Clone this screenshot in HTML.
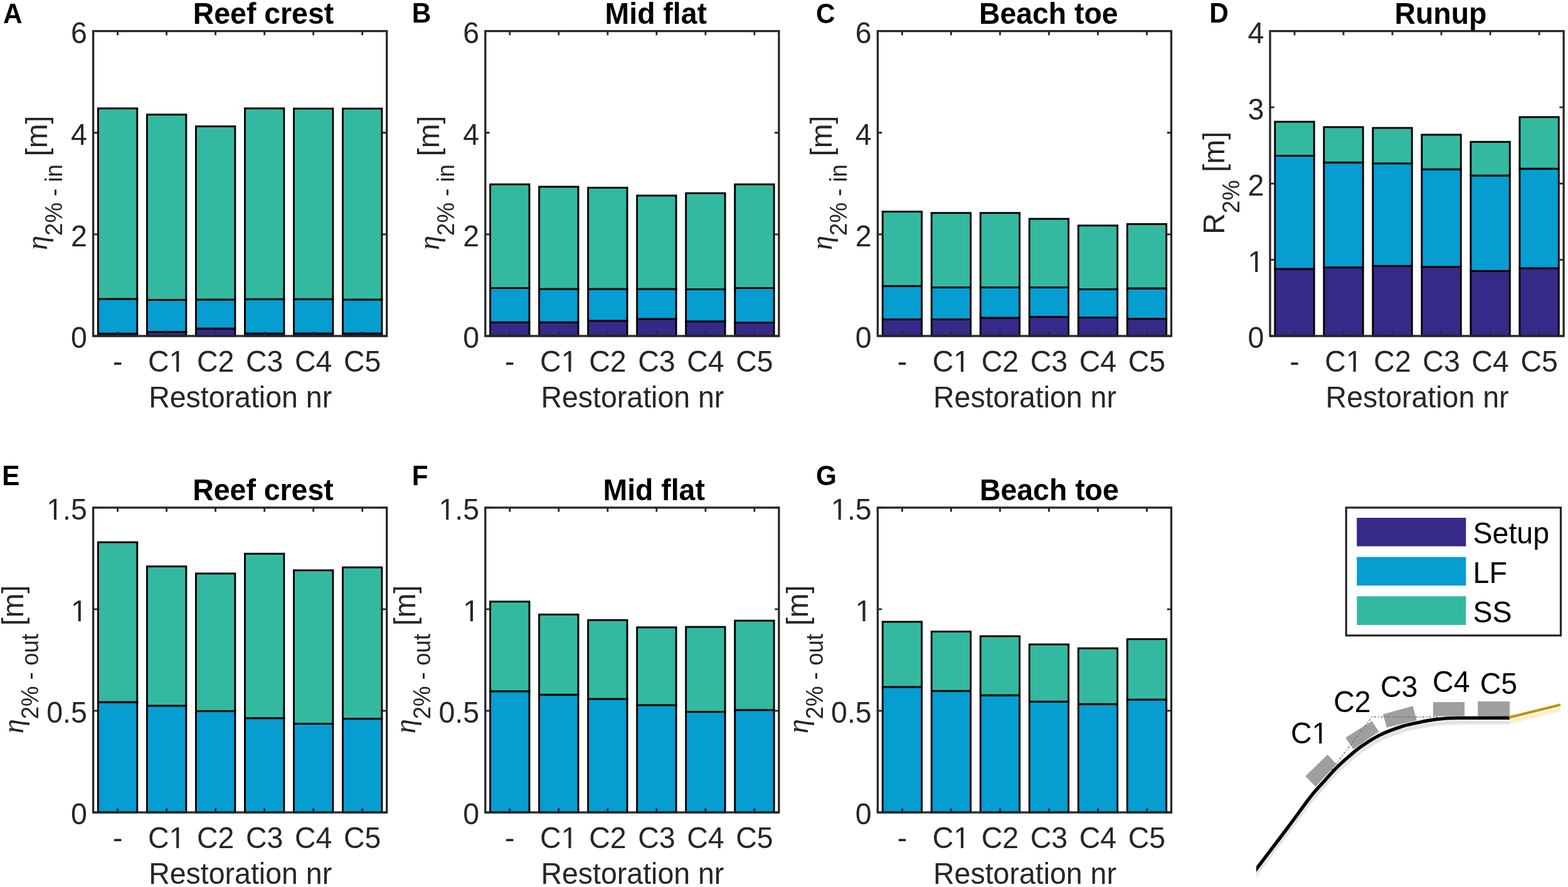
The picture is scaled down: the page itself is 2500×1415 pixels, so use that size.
<!DOCTYPE html>
<html><head><meta charset="utf-8"><title>Figure</title>
<style>html,body{margin:0;padding:0;background:#fff;overflow:hidden}svg{display:block}.t{font-family:"Liberation Sans",Arial,sans-serif;font-size:46.5px;fill:#262626}.b{font-family:"Liberation Sans",Arial,sans-serif;font-weight:bold;fill:#000}.k{font-family:"Liberation Sans",Arial,sans-serif;font-size:46.5px;fill:#000}.eta{font-family:"Liberation Serif","DejaVu Serif",serif;font-style:italic}</style></head><body>
<svg width="2500" height="1415" viewBox="0 0 2500 1415">
<rect x="0" y="0" width="2500" height="1415" fill="#fff"/>
<defs><clipPath id="c1m"><path clip-rule="evenodd" d="M-300 -300H300V300H-300ZM6.2 -4.47H15.55V1.5H6.2ZM19.66 -4.47H28.95V1.5H19.66Z"/></clipPath><clipPath id="c1s"><path clip-rule="evenodd" d="M-300 -300H300V300H-300ZM35.92 -4.47H45.27V1.5H35.92ZM49.38 -4.47H58.67V1.5H49.38Z"/></clipPath><clipPath id="o1e"><path clip-rule="evenodd" d="M-300 -300H300V300H-300ZM-23.52 -4.47H-14.17V1.5H-23.52ZM-10.06 -4.47H-0.77V1.5H-10.06Z"/></clipPath><clipPath id="o15e"><path clip-rule="evenodd" d="M-300 -300H300V300H-300ZM-62.3 -4.47H-52.95V1.5H-62.3ZM-48.84 -4.47H-39.55V1.5H-48.84Z"/></clipPath></defs>
<g><rect x="156.41" y="532.2" width="62.4" height="3.8" fill="#352a87" stroke="#000" stroke-width="2.9"/><rect x="156.41" y="476.9" width="62.4" height="55.3" fill="#069dd1" stroke="#000" stroke-width="2.9"/><rect x="156.41" y="172.9" width="62.4" height="304" fill="#34b9a1" stroke="#000" stroke-width="2.9"/><rect x="234.43" y="529.5" width="62.4" height="6.5" fill="#352a87" stroke="#000" stroke-width="2.9"/><rect x="234.43" y="478.4" width="62.4" height="51.1" fill="#069dd1" stroke="#000" stroke-width="2.9"/><rect x="234.43" y="182.8" width="62.4" height="295.6" fill="#34b9a1" stroke="#000" stroke-width="2.9"/><rect x="312.44" y="524.1" width="62.4" height="11.9" fill="#352a87" stroke="#000" stroke-width="2.9"/><rect x="312.44" y="477.9" width="62.4" height="46.2" fill="#069dd1" stroke="#000" stroke-width="2.9"/><rect x="312.44" y="201.6" width="62.4" height="276.3" fill="#34b9a1" stroke="#000" stroke-width="2.9"/><rect x="390.46" y="532" width="62.4" height="4" fill="#352a87" stroke="#000" stroke-width="2.9"/><rect x="390.46" y="477.3" width="62.4" height="54.7" fill="#069dd1" stroke="#000" stroke-width="2.9"/><rect x="390.46" y="172.9" width="62.4" height="304.4" fill="#34b9a1" stroke="#000" stroke-width="2.9"/><rect x="468.47" y="532" width="62.4" height="4" fill="#352a87" stroke="#000" stroke-width="2.9"/><rect x="468.47" y="477.3" width="62.4" height="54.7" fill="#069dd1" stroke="#000" stroke-width="2.9"/><rect x="468.47" y="173.2" width="62.4" height="304.1" fill="#34b9a1" stroke="#000" stroke-width="2.9"/><rect x="546.49" y="532" width="62.4" height="4" fill="#352a87" stroke="#000" stroke-width="2.9"/><rect x="546.49" y="477.9" width="62.4" height="54.1" fill="#069dd1" stroke="#000" stroke-width="2.9"/><rect x="546.49" y="173.2" width="62.4" height="304.7" fill="#34b9a1" stroke="#000" stroke-width="2.9"/></g>
<path d="M148.6 536h6.7M616.7 536h-6.7M148.6 373.87h6.7M616.7 373.87h-6.7M148.6 211.73h6.7M616.7 211.73h-6.7M148.6 49.6h6.7M616.7 49.6h-6.7M187.61 536v-6.7M187.61 49.6v6.7M265.62 536v-6.7M265.62 49.6v6.7M343.64 536v-6.7M343.64 49.6v6.7M421.66 536v-6.7M421.66 49.6v6.7M499.67 536v-6.7M499.67 49.6v6.7M577.69 536v-6.7M577.69 49.6v6.7" stroke="#262626" stroke-width="2.8" fill="none"/>
<rect x="148.6" y="49.6" width="468.1" height="486.4" fill="none" stroke="#262626" stroke-width="3.3"/>
<text class="t" transform="translate(138.9 555.4) scale(1 1.04)" text-anchor="end">0</text>
<text class="t" transform="translate(138.9 393.27) scale(1 1.04)" text-anchor="end">2</text>
<text class="t" transform="translate(138.9 231.13) scale(1 1.04)" text-anchor="end">4</text>
<text class="t" transform="translate(138.9 69) scale(1 1.04)" text-anchor="end">6</text>
<text class="t" transform="translate(187.61 593) scale(1 1.04)" text-anchor="middle">-</text>
<text class="t" transform="translate(265.62 593) scale(1 1.04)" text-anchor="middle" clip-path="url(#c1m)">C1</text>
<text class="t" transform="translate(343.64 593) scale(1 1.04)" text-anchor="middle">C2</text>
<text class="t" transform="translate(421.66 593) scale(1 1.04)" text-anchor="middle">C3</text>
<text class="t" transform="translate(499.67 593) scale(1 1.04)" text-anchor="middle">C4</text>
<text class="t" transform="translate(577.69 593) scale(1 1.04)" text-anchor="middle">C5</text>
<text class="t" transform="translate(383.15 650.3) scale(1 1.04)" text-anchor="middle">Restoration nr</text>
<text class="t" transform="translate(75.2 291.8) rotate(-90) scale(1 1.04)" text-anchor="middle"><tspan class="eta">&#951;</tspan><tspan font-size="36.6" dy="23">2% - in</tspan><tspan dy="-23"> [m]</tspan></text>
<text class="b" transform="translate(307.8 38.2) scale(1 1.04)" font-size="46.4">Reef crest</text>
<text class="b" transform="translate(5 36.8) scale(1 1.04)" font-size="42.3">A</text>
<g><rect x="781.61" y="514.2" width="62.4" height="21.8" fill="#352a87" stroke="#000" stroke-width="2.9"/><rect x="781.61" y="459.5" width="62.4" height="54.7" fill="#069dd1" stroke="#000" stroke-width="2.9"/><rect x="781.61" y="294.1" width="62.4" height="165.4" fill="#34b9a1" stroke="#000" stroke-width="2.9"/><rect x="859.62" y="514.2" width="62.4" height="21.8" fill="#352a87" stroke="#000" stroke-width="2.9"/><rect x="859.62" y="461" width="62.4" height="53.2" fill="#069dd1" stroke="#000" stroke-width="2.9"/><rect x="859.62" y="297.9" width="62.4" height="163.1" fill="#34b9a1" stroke="#000" stroke-width="2.9"/><rect x="937.64" y="511.7" width="62.4" height="24.3" fill="#352a87" stroke="#000" stroke-width="2.9"/><rect x="937.64" y="461" width="62.4" height="50.7" fill="#069dd1" stroke="#000" stroke-width="2.9"/><rect x="937.64" y="299.4" width="62.4" height="161.6" fill="#34b9a1" stroke="#000" stroke-width="2.9"/><rect x="1015.66" y="508.9" width="62.4" height="27.1" fill="#352a87" stroke="#000" stroke-width="2.9"/><rect x="1015.66" y="461" width="62.4" height="47.9" fill="#069dd1" stroke="#000" stroke-width="2.9"/><rect x="1015.66" y="312" width="62.4" height="149" fill="#34b9a1" stroke="#000" stroke-width="2.9"/><rect x="1093.67" y="512.7" width="62.4" height="23.3" fill="#352a87" stroke="#000" stroke-width="2.9"/><rect x="1093.67" y="461.5" width="62.4" height="51.2" fill="#069dd1" stroke="#000" stroke-width="2.9"/><rect x="1093.67" y="308.2" width="62.4" height="153.3" fill="#34b9a1" stroke="#000" stroke-width="2.9"/><rect x="1171.69" y="514.6" width="62.4" height="21.4" fill="#352a87" stroke="#000" stroke-width="2.9"/><rect x="1171.69" y="459.5" width="62.4" height="55.1" fill="#069dd1" stroke="#000" stroke-width="2.9"/><rect x="1171.69" y="294.1" width="62.4" height="165.4" fill="#34b9a1" stroke="#000" stroke-width="2.9"/></g>
<path d="M773.8 536h6.7M1241.9 536h-6.7M773.8 373.87h6.7M1241.9 373.87h-6.7M773.8 211.73h6.7M1241.9 211.73h-6.7M773.8 49.6h6.7M1241.9 49.6h-6.7M812.81 536v-6.7M812.81 49.6v6.7M890.82 536v-6.7M890.82 49.6v6.7M968.84 536v-6.7M968.84 49.6v6.7M1046.86 536v-6.7M1046.86 49.6v6.7M1124.88 536v-6.7M1124.88 49.6v6.7M1202.89 536v-6.7M1202.89 49.6v6.7" stroke="#262626" stroke-width="2.8" fill="none"/>
<rect x="773.8" y="49.6" width="468.1" height="486.4" fill="none" stroke="#262626" stroke-width="3.3"/>
<text class="t" transform="translate(764.1 555.4) scale(1 1.04)" text-anchor="end">0</text>
<text class="t" transform="translate(764.1 393.27) scale(1 1.04)" text-anchor="end">2</text>
<text class="t" transform="translate(764.1 231.13) scale(1 1.04)" text-anchor="end">4</text>
<text class="t" transform="translate(764.1 69) scale(1 1.04)" text-anchor="end">6</text>
<text class="t" transform="translate(812.81 593) scale(1 1.04)" text-anchor="middle">-</text>
<text class="t" transform="translate(890.82 593) scale(1 1.04)" text-anchor="middle" clip-path="url(#c1m)">C1</text>
<text class="t" transform="translate(968.84 593) scale(1 1.04)" text-anchor="middle">C2</text>
<text class="t" transform="translate(1046.86 593) scale(1 1.04)" text-anchor="middle">C3</text>
<text class="t" transform="translate(1124.88 593) scale(1 1.04)" text-anchor="middle">C4</text>
<text class="t" transform="translate(1202.89 593) scale(1 1.04)" text-anchor="middle">C5</text>
<text class="t" transform="translate(1008.35 650.3) scale(1 1.04)" text-anchor="middle">Restoration nr</text>
<text class="t" transform="translate(700.4 291.8) rotate(-90) scale(1 1.04)" text-anchor="middle"><tspan class="eta">&#951;</tspan><tspan font-size="36.6" dy="23">2% - in</tspan><tspan dy="-23"> [m]</tspan></text>
<text class="b" transform="translate(964.6 38.4) scale(1 1.04)" font-size="46.4">Mid flat</text>
<text class="b" transform="translate(656.8 36.4) scale(1 1.04)" font-size="42.3">B</text>
<g><rect x="1407.21" y="509.5" width="62.4" height="26.5" fill="#352a87" stroke="#000" stroke-width="2.9"/><rect x="1407.21" y="456.3" width="62.4" height="53.2" fill="#069dd1" stroke="#000" stroke-width="2.9"/><rect x="1407.21" y="337.6" width="62.4" height="118.7" fill="#34b9a1" stroke="#000" stroke-width="2.9"/><rect x="1485.23" y="509.5" width="62.4" height="26.5" fill="#352a87" stroke="#000" stroke-width="2.9"/><rect x="1485.23" y="458.5" width="62.4" height="51" fill="#069dd1" stroke="#000" stroke-width="2.9"/><rect x="1485.23" y="339.7" width="62.4" height="118.8" fill="#34b9a1" stroke="#000" stroke-width="2.9"/><rect x="1563.24" y="507" width="62.4" height="29" fill="#352a87" stroke="#000" stroke-width="2.9"/><rect x="1563.24" y="458.5" width="62.4" height="48.5" fill="#069dd1" stroke="#000" stroke-width="2.9"/><rect x="1563.24" y="339.7" width="62.4" height="118.8" fill="#34b9a1" stroke="#000" stroke-width="2.9"/><rect x="1641.26" y="505.5" width="62.4" height="30.5" fill="#352a87" stroke="#000" stroke-width="2.9"/><rect x="1641.26" y="458.5" width="62.4" height="47" fill="#069dd1" stroke="#000" stroke-width="2.9"/><rect x="1641.26" y="349.1" width="62.4" height="109.4" fill="#34b9a1" stroke="#000" stroke-width="2.9"/><rect x="1719.28" y="506.5" width="62.4" height="29.5" fill="#352a87" stroke="#000" stroke-width="2.9"/><rect x="1719.28" y="461.5" width="62.4" height="45" fill="#069dd1" stroke="#000" stroke-width="2.9"/><rect x="1719.28" y="359.8" width="62.4" height="101.7" fill="#34b9a1" stroke="#000" stroke-width="2.9"/><rect x="1797.29" y="508.5" width="62.4" height="27.5" fill="#352a87" stroke="#000" stroke-width="2.9"/><rect x="1797.29" y="460" width="62.4" height="48.5" fill="#069dd1" stroke="#000" stroke-width="2.9"/><rect x="1797.29" y="357.5" width="62.4" height="102.5" fill="#34b9a1" stroke="#000" stroke-width="2.9"/></g>
<path d="M1399.4 536h6.7M1867.5 536h-6.7M1399.4 373.87h6.7M1867.5 373.87h-6.7M1399.4 211.73h6.7M1867.5 211.73h-6.7M1399.4 49.6h6.7M1867.5 49.6h-6.7M1438.41 536v-6.7M1438.41 49.6v6.7M1516.43 536v-6.7M1516.43 49.6v6.7M1594.44 536v-6.7M1594.44 49.6v6.7M1672.46 536v-6.7M1672.46 49.6v6.7M1750.48 536v-6.7M1750.48 49.6v6.7M1828.49 536v-6.7M1828.49 49.6v6.7" stroke="#262626" stroke-width="2.8" fill="none"/>
<rect x="1399.4" y="49.6" width="468.1" height="486.4" fill="none" stroke="#262626" stroke-width="3.3"/>
<text class="t" transform="translate(1389.7 555.4) scale(1 1.04)" text-anchor="end">0</text>
<text class="t" transform="translate(1389.7 393.27) scale(1 1.04)" text-anchor="end">2</text>
<text class="t" transform="translate(1389.7 231.13) scale(1 1.04)" text-anchor="end">4</text>
<text class="t" transform="translate(1389.7 69) scale(1 1.04)" text-anchor="end">6</text>
<text class="t" transform="translate(1438.41 593) scale(1 1.04)" text-anchor="middle">-</text>
<text class="t" transform="translate(1516.43 593) scale(1 1.04)" text-anchor="middle" clip-path="url(#c1m)">C1</text>
<text class="t" transform="translate(1594.44 593) scale(1 1.04)" text-anchor="middle">C2</text>
<text class="t" transform="translate(1672.46 593) scale(1 1.04)" text-anchor="middle">C3</text>
<text class="t" transform="translate(1750.48 593) scale(1 1.04)" text-anchor="middle">C4</text>
<text class="t" transform="translate(1828.49 593) scale(1 1.04)" text-anchor="middle">C5</text>
<text class="t" transform="translate(1633.95 650.3) scale(1 1.04)" text-anchor="middle">Restoration nr</text>
<text class="t" transform="translate(1326 291.8) rotate(-90) scale(1 1.04)" text-anchor="middle"><tspan class="eta">&#951;</tspan><tspan font-size="36.6" dy="23">2% - in</tspan><tspan dy="-23"> [m]</tspan></text>
<text class="b" transform="translate(1560.9 38.4) scale(1 1.04)" font-size="46.4">Beach toe</text>
<text class="b" transform="translate(1300.9 36.6) scale(1 1.04)" font-size="42.3">C</text>
<g><rect x="2032.81" y="428.9" width="62.4" height="107.1" fill="#352a87" stroke="#000" stroke-width="2.9"/><rect x="2032.81" y="248.5" width="62.4" height="180.4" fill="#069dd1" stroke="#000" stroke-width="2.9"/><rect x="2032.81" y="194.2" width="62.4" height="54.3" fill="#34b9a1" stroke="#000" stroke-width="2.9"/><rect x="2110.83" y="426.6" width="62.4" height="109.4" fill="#352a87" stroke="#000" stroke-width="2.9"/><rect x="2110.83" y="259.2" width="62.4" height="167.4" fill="#069dd1" stroke="#000" stroke-width="2.9"/><rect x="2110.83" y="202.8" width="62.4" height="56.4" fill="#34b9a1" stroke="#000" stroke-width="2.9"/><rect x="2188.84" y="424.2" width="62.4" height="111.8" fill="#352a87" stroke="#000" stroke-width="2.9"/><rect x="2188.84" y="260.7" width="62.4" height="163.5" fill="#069dd1" stroke="#000" stroke-width="2.9"/><rect x="2188.84" y="204.1" width="62.4" height="56.6" fill="#34b9a1" stroke="#000" stroke-width="2.9"/><rect x="2266.86" y="425.7" width="62.4" height="110.3" fill="#352a87" stroke="#000" stroke-width="2.9"/><rect x="2266.86" y="270.1" width="62.4" height="155.6" fill="#069dd1" stroke="#000" stroke-width="2.9"/><rect x="2266.86" y="214.9" width="62.4" height="55.2" fill="#34b9a1" stroke="#000" stroke-width="2.9"/><rect x="2344.88" y="432.3" width="62.4" height="103.7" fill="#352a87" stroke="#000" stroke-width="2.9"/><rect x="2344.88" y="280" width="62.4" height="152.3" fill="#069dd1" stroke="#000" stroke-width="2.9"/><rect x="2344.88" y="226.3" width="62.4" height="53.7" fill="#34b9a1" stroke="#000" stroke-width="2.9"/><rect x="2422.89" y="427.9" width="62.4" height="108.1" fill="#352a87" stroke="#000" stroke-width="2.9"/><rect x="2422.89" y="269.1" width="62.4" height="158.8" fill="#069dd1" stroke="#000" stroke-width="2.9"/><rect x="2422.89" y="186.8" width="62.4" height="82.3" fill="#34b9a1" stroke="#000" stroke-width="2.9"/></g>
<path d="M2025 536h6.7M2493.1 536h-6.7M2025 414.4h6.7M2493.1 414.4h-6.7M2025 292.8h6.7M2493.1 292.8h-6.7M2025 171.2h6.7M2493.1 171.2h-6.7M2025 49.6h6.7M2493.1 49.6h-6.7M2064.01 536v-6.7M2064.01 49.6v6.7M2142.03 536v-6.7M2142.03 49.6v6.7M2220.04 536v-6.7M2220.04 49.6v6.7M2298.06 536v-6.7M2298.06 49.6v6.7M2376.07 536v-6.7M2376.07 49.6v6.7M2454.09 536v-6.7M2454.09 49.6v6.7" stroke="#262626" stroke-width="2.8" fill="none"/>
<rect x="2025" y="49.6" width="468.1" height="486.4" fill="none" stroke="#262626" stroke-width="3.3"/>
<text class="t" transform="translate(2015.3 555.4) scale(1 1.04)" text-anchor="end">0</text>
<text class="t" transform="translate(2015.3 433.8) scale(1 1.04)" text-anchor="end" clip-path="url(#o1e)">1</text>
<text class="t" transform="translate(2015.3 312.2) scale(1 1.04)" text-anchor="end">2</text>
<text class="t" transform="translate(2015.3 190.6) scale(1 1.04)" text-anchor="end">3</text>
<text class="t" transform="translate(2015.3 69) scale(1 1.04)" text-anchor="end">4</text>
<text class="t" transform="translate(2064.01 593) scale(1 1.04)" text-anchor="middle">-</text>
<text class="t" transform="translate(2142.03 593) scale(1 1.04)" text-anchor="middle" clip-path="url(#c1m)">C1</text>
<text class="t" transform="translate(2220.04 593) scale(1 1.04)" text-anchor="middle">C2</text>
<text class="t" transform="translate(2298.06 593) scale(1 1.04)" text-anchor="middle">C3</text>
<text class="t" transform="translate(2376.07 593) scale(1 1.04)" text-anchor="middle">C4</text>
<text class="t" transform="translate(2454.09 593) scale(1 1.04)" text-anchor="middle">C5</text>
<text class="t" transform="translate(2259.55 650.3) scale(1 1.04)" text-anchor="middle">Restoration nr</text>
<text class="t" transform="translate(1951.6 291.8) rotate(-90) scale(1 1.04)" text-anchor="middle">R<tspan font-size="36.6" dy="23">2%</tspan><tspan dy="-23"> [m]</tspan></text>
<text class="b" transform="translate(2223.5 38.4) scale(1 1.04)" font-size="46.4">Runup</text>
<text class="b" transform="translate(1928.2 36.4) scale(1 1.04)" font-size="42.3">D</text>
<g><rect x="156.41" y="1120.1" width="62.4" height="175.9" fill="#069dd1" stroke="#000" stroke-width="2.9"/><rect x="156.41" y="865" width="62.4" height="255.1" fill="#34b9a1" stroke="#000" stroke-width="2.9"/><rect x="234.43" y="1125.8" width="62.4" height="170.2" fill="#069dd1" stroke="#000" stroke-width="2.9"/><rect x="234.43" y="903.6" width="62.4" height="222.2" fill="#34b9a1" stroke="#000" stroke-width="2.9"/><rect x="312.44" y="1134.4" width="62.4" height="161.6" fill="#069dd1" stroke="#000" stroke-width="2.9"/><rect x="312.44" y="914.9" width="62.4" height="219.5" fill="#34b9a1" stroke="#000" stroke-width="2.9"/><rect x="390.46" y="1145.7" width="62.4" height="150.3" fill="#069dd1" stroke="#000" stroke-width="2.9"/><rect x="390.46" y="883.3" width="62.4" height="262.4" fill="#34b9a1" stroke="#000" stroke-width="2.9"/><rect x="468.47" y="1154.5" width="62.4" height="141.5" fill="#069dd1" stroke="#000" stroke-width="2.9"/><rect x="468.47" y="909.8" width="62.4" height="244.7" fill="#34b9a1" stroke="#000" stroke-width="2.9"/><rect x="546.49" y="1146.6" width="62.4" height="149.4" fill="#069dd1" stroke="#000" stroke-width="2.9"/><rect x="546.49" y="905.1" width="62.4" height="241.5" fill="#34b9a1" stroke="#000" stroke-width="2.9"/></g>
<path d="M148.6 1296h6.7M616.7 1296h-6.7M148.6 1133.93h6.7M616.7 1133.93h-6.7M148.6 971.87h6.7M616.7 971.87h-6.7M148.6 809.8h6.7M616.7 809.8h-6.7M187.61 1296v-6.7M187.61 809.8v6.7M265.62 1296v-6.7M265.62 809.8v6.7M343.64 1296v-6.7M343.64 809.8v6.7M421.66 1296v-6.7M421.66 809.8v6.7M499.67 1296v-6.7M499.67 809.8v6.7M577.69 1296v-6.7M577.69 809.8v6.7" stroke="#262626" stroke-width="2.8" fill="none"/>
<rect x="148.6" y="809.8" width="468.1" height="486.2" fill="none" stroke="#262626" stroke-width="3.3"/>
<text class="t" transform="translate(138.9 1315.4) scale(1 1.04)" text-anchor="end">0</text>
<text class="t" transform="translate(138.9 1153.33) scale(1 1.04)" text-anchor="end">0.5</text>
<text class="t" transform="translate(138.9 991.27) scale(1 1.04)" text-anchor="end" clip-path="url(#o1e)">1</text>
<text class="t" transform="translate(138.9 829.2) scale(1 1.04)" text-anchor="end" clip-path="url(#o15e)">1.5</text>
<text class="t" transform="translate(187.61 1353) scale(1 1.04)" text-anchor="middle">-</text>
<text class="t" transform="translate(265.62 1353) scale(1 1.04)" text-anchor="middle" clip-path="url(#c1m)">C1</text>
<text class="t" transform="translate(343.64 1353) scale(1 1.04)" text-anchor="middle">C2</text>
<text class="t" transform="translate(421.66 1353) scale(1 1.04)" text-anchor="middle">C3</text>
<text class="t" transform="translate(499.67 1353) scale(1 1.04)" text-anchor="middle">C4</text>
<text class="t" transform="translate(577.69 1353) scale(1 1.04)" text-anchor="middle">C5</text>
<text class="t" transform="translate(383.15 1410.3) scale(1 1.04)" text-anchor="middle">Restoration nr</text>
<text class="t" transform="translate(37 1051.9) rotate(-90) scale(1 1.04)" text-anchor="middle"><tspan class="eta">&#951;</tspan><tspan font-size="36.6" dy="23">2% - out</tspan><tspan dy="-23"> [m]</tspan></text>
<text class="b" transform="translate(307.3 797.6) scale(1 1.04)" font-size="46.4">Reef crest</text>
<text class="b" transform="translate(3.2 773.9) scale(1 1.04)" font-size="42.3">E</text>
<g><rect x="781.61" y="1102.8" width="62.4" height="193.2" fill="#069dd1" stroke="#000" stroke-width="2.9"/><rect x="781.61" y="959.7" width="62.4" height="143.1" fill="#34b9a1" stroke="#000" stroke-width="2.9"/><rect x="859.62" y="1108.2" width="62.4" height="187.8" fill="#069dd1" stroke="#000" stroke-width="2.9"/><rect x="859.62" y="980.3" width="62.4" height="127.9" fill="#34b9a1" stroke="#000" stroke-width="2.9"/><rect x="937.64" y="1115" width="62.4" height="181" fill="#069dd1" stroke="#000" stroke-width="2.9"/><rect x="937.64" y="989.2" width="62.4" height="125.8" fill="#34b9a1" stroke="#000" stroke-width="2.9"/><rect x="1015.66" y="1124.8" width="62.4" height="171.2" fill="#069dd1" stroke="#000" stroke-width="2.9"/><rect x="1015.66" y="1000.8" width="62.4" height="124" fill="#34b9a1" stroke="#000" stroke-width="2.9"/><rect x="1093.67" y="1135.5" width="62.4" height="160.5" fill="#069dd1" stroke="#000" stroke-width="2.9"/><rect x="1093.67" y="1000.1" width="62.4" height="135.4" fill="#34b9a1" stroke="#000" stroke-width="2.9"/><rect x="1171.69" y="1132.7" width="62.4" height="163.3" fill="#069dd1" stroke="#000" stroke-width="2.9"/><rect x="1171.69" y="990.1" width="62.4" height="142.6" fill="#34b9a1" stroke="#000" stroke-width="2.9"/></g>
<path d="M773.8 1296h6.7M1241.9 1296h-6.7M773.8 1133.93h6.7M1241.9 1133.93h-6.7M773.8 971.87h6.7M1241.9 971.87h-6.7M773.8 809.8h6.7M1241.9 809.8h-6.7M812.81 1296v-6.7M812.81 809.8v6.7M890.82 1296v-6.7M890.82 809.8v6.7M968.84 1296v-6.7M968.84 809.8v6.7M1046.86 1296v-6.7M1046.86 809.8v6.7M1124.88 1296v-6.7M1124.88 809.8v6.7M1202.89 1296v-6.7M1202.89 809.8v6.7" stroke="#262626" stroke-width="2.8" fill="none"/>
<rect x="773.8" y="809.8" width="468.1" height="486.2" fill="none" stroke="#262626" stroke-width="3.3"/>
<text class="t" transform="translate(764.1 1315.4) scale(1 1.04)" text-anchor="end">0</text>
<text class="t" transform="translate(764.1 1153.33) scale(1 1.04)" text-anchor="end">0.5</text>
<text class="t" transform="translate(764.1 991.27) scale(1 1.04)" text-anchor="end" clip-path="url(#o1e)">1</text>
<text class="t" transform="translate(764.1 829.2) scale(1 1.04)" text-anchor="end" clip-path="url(#o15e)">1.5</text>
<text class="t" transform="translate(812.81 1353) scale(1 1.04)" text-anchor="middle">-</text>
<text class="t" transform="translate(890.82 1353) scale(1 1.04)" text-anchor="middle" clip-path="url(#c1m)">C1</text>
<text class="t" transform="translate(968.84 1353) scale(1 1.04)" text-anchor="middle">C2</text>
<text class="t" transform="translate(1046.86 1353) scale(1 1.04)" text-anchor="middle">C3</text>
<text class="t" transform="translate(1124.88 1353) scale(1 1.04)" text-anchor="middle">C4</text>
<text class="t" transform="translate(1202.89 1353) scale(1 1.04)" text-anchor="middle">C5</text>
<text class="t" transform="translate(1008.35 1410.3) scale(1 1.04)" text-anchor="middle">Restoration nr</text>
<text class="t" transform="translate(662.2 1051.9) rotate(-90) scale(1 1.04)" text-anchor="middle"><tspan class="eta">&#951;</tspan><tspan font-size="36.6" dy="23">2% - out</tspan><tspan dy="-23"> [m]</tspan></text>
<text class="b" transform="translate(961.5 797.6) scale(1 1.04)" font-size="46.4">Mid flat</text>
<text class="b" transform="translate(656.8 774.1) scale(1 1.04)" font-size="42.3">F</text>
<g><rect x="1407.21" y="1095.9" width="62.4" height="200.1" fill="#069dd1" stroke="#000" stroke-width="2.9"/><rect x="1407.21" y="991.9" width="62.4" height="104" fill="#34b9a1" stroke="#000" stroke-width="2.9"/><rect x="1485.23" y="1102.3" width="62.4" height="193.7" fill="#069dd1" stroke="#000" stroke-width="2.9"/><rect x="1485.23" y="1007.5" width="62.4" height="94.8" fill="#34b9a1" stroke="#000" stroke-width="2.9"/><rect x="1563.24" y="1109.1" width="62.4" height="186.9" fill="#069dd1" stroke="#000" stroke-width="2.9"/><rect x="1563.24" y="1014.9" width="62.4" height="94.2" fill="#34b9a1" stroke="#000" stroke-width="2.9"/><rect x="1641.26" y="1119.2" width="62.4" height="176.8" fill="#069dd1" stroke="#000" stroke-width="2.9"/><rect x="1641.26" y="1028" width="62.4" height="91.2" fill="#34b9a1" stroke="#000" stroke-width="2.9"/><rect x="1719.28" y="1123.2" width="62.4" height="172.8" fill="#069dd1" stroke="#000" stroke-width="2.9"/><rect x="1719.28" y="1034.2" width="62.4" height="89" fill="#34b9a1" stroke="#000" stroke-width="2.9"/><rect x="1797.29" y="1116" width="62.4" height="180" fill="#069dd1" stroke="#000" stroke-width="2.9"/><rect x="1797.29" y="1019.6" width="62.4" height="96.4" fill="#34b9a1" stroke="#000" stroke-width="2.9"/></g>
<path d="M1399.4 1296h6.7M1867.5 1296h-6.7M1399.4 1133.93h6.7M1867.5 1133.93h-6.7M1399.4 971.87h6.7M1867.5 971.87h-6.7M1399.4 809.8h6.7M1867.5 809.8h-6.7M1438.41 1296v-6.7M1438.41 809.8v6.7M1516.43 1296v-6.7M1516.43 809.8v6.7M1594.44 1296v-6.7M1594.44 809.8v6.7M1672.46 1296v-6.7M1672.46 809.8v6.7M1750.48 1296v-6.7M1750.48 809.8v6.7M1828.49 1296v-6.7M1828.49 809.8v6.7" stroke="#262626" stroke-width="2.8" fill="none"/>
<rect x="1399.4" y="809.8" width="468.1" height="486.2" fill="none" stroke="#262626" stroke-width="3.3"/>
<text class="t" transform="translate(1389.7 1315.4) scale(1 1.04)" text-anchor="end">0</text>
<text class="t" transform="translate(1389.7 1153.33) scale(1 1.04)" text-anchor="end">0.5</text>
<text class="t" transform="translate(1389.7 991.27) scale(1 1.04)" text-anchor="end" clip-path="url(#o1e)">1</text>
<text class="t" transform="translate(1389.7 829.2) scale(1 1.04)" text-anchor="end" clip-path="url(#o15e)">1.5</text>
<text class="t" transform="translate(1438.41 1353) scale(1 1.04)" text-anchor="middle">-</text>
<text class="t" transform="translate(1516.43 1353) scale(1 1.04)" text-anchor="middle" clip-path="url(#c1m)">C1</text>
<text class="t" transform="translate(1594.44 1353) scale(1 1.04)" text-anchor="middle">C2</text>
<text class="t" transform="translate(1672.46 1353) scale(1 1.04)" text-anchor="middle">C3</text>
<text class="t" transform="translate(1750.48 1353) scale(1 1.04)" text-anchor="middle">C4</text>
<text class="t" transform="translate(1828.49 1353) scale(1 1.04)" text-anchor="middle">C5</text>
<text class="t" transform="translate(1633.95 1410.3) scale(1 1.04)" text-anchor="middle">Restoration nr</text>
<text class="t" transform="translate(1287.8 1051.9) rotate(-90) scale(1 1.04)" text-anchor="middle"><tspan class="eta">&#951;</tspan><tspan font-size="36.6" dy="23">2% - out</tspan><tspan dy="-23"> [m]</tspan></text>
<text class="b" transform="translate(1562 797.6) scale(1 1.04)" font-size="46.4">Beach toe</text>
<text class="b" transform="translate(1300.9 774) scale(1 1.04)" font-size="42.3">G</text>
<rect x="2146.3" y="809.8" width="342.2" height="204" fill="#fff" stroke="#262626" stroke-width="3.2"/>
<rect x="2163.3" y="826" width="174" height="45.5" fill="#352a87"/>
<text class="k" transform="translate(2348.6 866.8) scale(1 1.04)">Setup</text>
<rect x="2163.3" y="888.6" width="174" height="45.5" fill="#069dd1"/>
<text class="k" transform="translate(2348.6 929.8) scale(1 1.04)">LF</text>
<rect x="2163.3" y="951.2" width="174" height="45.8" fill="#34b9a1"/>
<text class="k" transform="translate(2348.6 993.2) scale(1 1.04)">SS</text>
<clipPath id="pc"><rect x="2003" y="1000" width="497" height="415"/></clipPath>
<path d="M1995 1397.1L2053.3 1320C2069.13 1298.87 2080.55 1282.37 2090 1270.3C2099.45 1258.23 2103.33 1255.05 2110 1247.6C2116.67 1240.15 2123.33 1232.32 2130 1225.6C2136.67 1218.88 2143.33 1213.07 2150 1207.3C2156.67 1201.53 2161.67 1196.78 2170 1191C2178.33 1185.22 2189 1178 2200 1172.6C2211 1167.2 2225.17 1162.07 2236 1158.6C2246.83 1155.13 2255.67 1153.7 2265 1151.8C2274.33 1149.9 2282 1148.27 2292 1147.2C2302 1146.13 2305.83 1145.73 2325 1145.4L2407 1145.2" transform="translate(0 7)" stroke="#e4e4e4" stroke-width="6.5" fill="none" clip-path="url(#pc)"/>
<path d="M2407 1144.6L2488 1124.3" transform="translate(0 7)" stroke="#fcf0c8" stroke-width="6.5" fill="none"/>
<polygon points="2081.3,1238.2 2116.8,1203.7 2130.6,1219.1 2097.7,1255.1" fill="#a19e9f"/>
<polygon points="2145.4,1176.7 2187.3,1150.2 2198.4,1167.2 2157.6,1195.3" fill="#a19e9f"/>
<polygon points="2204.9,1139.4 2252.6,1126.3 2258.8,1149.3 2211.1,1160.4" fill="#a19e9f"/>
<polygon points="2284.9,1120.1 2335.1,1120.1 2335.1,1142.5 2284.9,1142.5" fill="#a19e9f"/>
<polygon points="2356.2,1118.9 2407,1118.9 2407,1142.5 2356.2,1142.5" fill="#a19e9f"/>
<path d="M2122.6 1228.9L2187.4 1143.6L2292 1143.8" stroke="#707070" stroke-width="1.5" fill="none" stroke-dasharray="3.6 3 1.8 2.6"/>
<path d="M1995 1397.1L2053.3 1320C2069.13 1298.87 2080.55 1282.37 2090 1270.3C2099.45 1258.23 2103.33 1255.05 2110 1247.6C2116.67 1240.15 2123.33 1232.32 2130 1225.6C2136.67 1218.88 2143.33 1213.07 2150 1207.3C2156.67 1201.53 2161.67 1196.78 2170 1191C2178.33 1185.22 2189 1178 2200 1172.6C2211 1167.2 2225.17 1162.07 2236 1158.6C2246.83 1155.13 2255.67 1153.7 2265 1151.8C2274.33 1149.9 2282 1148.27 2292 1147.2C2302 1146.13 2305.83 1145.73 2325 1145.4L2407 1145.2" stroke="#000" stroke-width="5.4" fill="none" clip-path="url(#pc)"/>
<path d="M2406 1144.6L2488 1124.3" stroke="#c19408" stroke-width="4.2" fill="none"/>
<text class="k" transform="translate(2058 1185.5) scale(1 1.04)" clip-path="url(#c1s)">C1</text>
<text class="k" transform="translate(2126.3 1135.9) scale(1 1.04)">C2</text>
<text class="k" transform="translate(2201 1111.5) scale(1 1.04)">C3</text>
<text class="k" transform="translate(2284.1 1104.2) scale(1 1.04)">C4</text>
<text class="k" transform="translate(2359.7 1107) scale(1 1.04)">C5</text>
</svg></body></html>
